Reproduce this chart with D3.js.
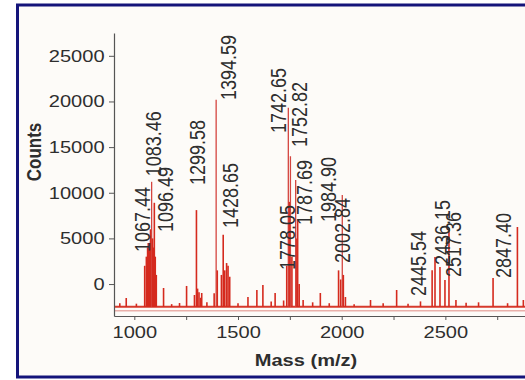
<!DOCTYPE html>
<html>
<head>
<meta charset="utf-8">
<script src="https://cdn.jsdelivr.net/npm/d3@7"></script>
<style>
  html, body { margin: 0; padding: 0; background: #ffffff; }
  svg { display: block; }
  text { font-family: "Liberation Sans", Arial, sans-serif; fill: #2e2e2e; }
</style>
</head>
<body>
<svg id="chart" width="525" height="380"></svg>
<script>
// ---- data ----
const yTicks = [0, 5000, 10000, 15000, 20000, 25000];
const xTicks = [1000, 1250, 1500, 1750, 2000, 2250, 2500, 2750];
const xTickLabels = [1000, 1500, 2000, 2500];
const baselineCounts = -2500;

// spectrum sticks: mass (m/z) and counts
const peakMass = [
  930, 961, 1010, 1050, 1058, 1064, 1067.44, 1072, 1078, 1083.46, 1088, 1092, 1096.49, 1101, 1106,
  1141, 1180, 1218, 1252, 1290, 1299.58, 1305, 1312, 1320, 1325, 1350, 1385, 1394.59, 1400,
  1420, 1428.65, 1436, 1445, 1452, 1460, 1500, 1548, 1591, 1620, 1660, 1679, 1720,
  1735, 1742.65, 1748, 1752.82, 1760, 1778.05, 1784, 1787.69, 1795, 1814, 1860, 1897, 1940,
  1984.90, 1995, 2002.84, 2008, 2018, 2060, 2139, 2200, 2265, 2320, 2380,
  2436.15, 2450, 2474, 2498, 2517.36, 2551, 2600, 2660, 2730, 2800, 2847.40, 2876
];
const peakCounts = [
  -2100, -1530, -2150, 2000, 3000, 4000, 4500, 3800, 6000, 11200, 5000, 4000, 8900, 3000, 1000,
  -430, -2200, -2080, -210, -1200, 8100, -500, -900, -1500, -980, -2000, -1000, 20200, 1500,
  1000, 5400, 1500, 2300, 2000, 800, -2100, -1420, -650, -100, -1900, -980, -1800,
  2000, 19300, 9000, 14000, 3000, 11400, 5000, 7000, 0, -1750, -2000, -980, -2100,
  1500, 500, 9750, 1000, -1420, -2200, -1750, -2100, -650, -2150, -1900,
  1500, 2960, 1870, 440, 6140, -1750, -2050, -2000, 660, -2100, 6250, -1750
];

// peak annotations: text and anchor (mass, counts) of the start of the rotated label
const labelText = ["1067.44", "1083.46", "1096.49", "1299.58", "1394.59", "1428.65", "1742.65", "1752.82",
                   "1778.05", "1787.69", "1984.90", "2002.84", "2445.54", "2436.15", "2517.36", "2847.40"];
const labelMass = [1037, 1090, 1148, 1302, 1452, 1462, 1693, 1794, 1736, 1818, 1938, 2001, 2368, 2484, 2537, 2778];
const labelCounts = [3500, 11800, 5700, 10850, 20160, 6140, 16550, 15010, 1540, 6470, 6800, 2300, -1310, 2090, 770, 660];

// ---- drawing ----
const svg = d3.select("#chart");
const stretch = 1.18;

// frame
svg.append("rect").attr("x", 17.5).attr("y", 5).attr("width", 620).attr("height", 372)
  .attr("fill", "#fdfbf8").attr("stroke", "#14147a").attr("stroke-width", 3);

const x = d3.scaleLinear().domain([902, 2884]).range([114, 525]);
const y = d3.scaleLinear().domain([-3500, 27500]).range([316, 33]);

// baseline of the spectrum
svg.append("line")
  .attr("x1", x.range()[0]).attr("x2", x.range()[1])
  .attr("y1", y(baselineCounts) + 4).attr("y2", y(baselineCounts) + 4)
  .attr("stroke", "#e9b0aa").attr("stroke-width", 1.5);
svg.append("line")
  .attr("x1", x.range()[0]).attr("x2", x.range()[1])
  .attr("y1", y(baselineCounts)).attr("y2", y(baselineCounts))
  .attr("stroke", "#d63a2c").attr("stroke-width", 2);

// sticks
const peaks = peakMass.map((m, i) => ({ m, c: peakCounts[i] }));
svg.append("g").selectAll("line").data(peaks).join("line")
  .attr("x1", d => x(d.m)).attr("x2", d => x(d.m))
  .attr("y1", y(baselineCounts)).attr("y2", d => y(d.c))
  .attr("stroke", d => d.c > 9000 ? "#d4453f" : "#d52a1e")
  .attr("stroke-width", d => d.c > 9000 ? 1.3 : 1.6);

// axes
const yAxis = d3.axisLeft(y).tickValues(yTicks).tickSize(5).tickSizeOuter(0).tickPadding(3)
  .tickFormat(d3.format("d"));
const gy = svg.append("g").attr("transform", "translate(114,0)").call(yAxis);
gy.selectAll("text").style("font-size", "17px").attr("transform", `scale(${stretch},1)`);

const xAxis = d3.axisBottom(x).tickValues(xTicks).tickSize(4).tickSizeOuter(0).tickPadding(6)
  .tickFormat(d => xTickLabels.includes(d) ? d : "");
const gx = svg.append("g").attr("transform", "translate(0,316)").call(xAxis);
gx.selectAll("text").style("font-size", "17px").attr("transform", `scale(${stretch},1)`);

[gx, gy].forEach(g => {
  g.select(".domain").attr("stroke", "#555").attr("stroke-width", 1.2);
  g.selectAll(".tick line").attr("stroke", "#555");
  g.selectAll("text").attr("fill", "#2e2e2e").style("font-family", "'Liberation Sans', Arial, sans-serif");
});

// axis titles
svg.append("text").attr("transform", `translate(306,366) scale(${stretch},1)`).attr("text-anchor", "middle")
  .style("font-size", "17px").style("font-weight", "bold").text("Mass (m/z)");
svg.append("text").attr("transform", `translate(41,152) scale(${stretch},1) rotate(-90)`).attr("text-anchor", "middle")
  .style("font-size", "17px").style("font-weight", "bold").text("Counts");

// peak labels
svg.append("g").selectAll("text").data(labelText).join("text")
  .attr("transform", (d, i) => `translate(${x(labelMass[i])},${y(labelCounts[i])}) scale(${stretch},1) rotate(-90)`)
  .attr("dy", "0.36em")
  .style("font-size", "18px")
  .text(d => d);
</script>
</body>
</html>
